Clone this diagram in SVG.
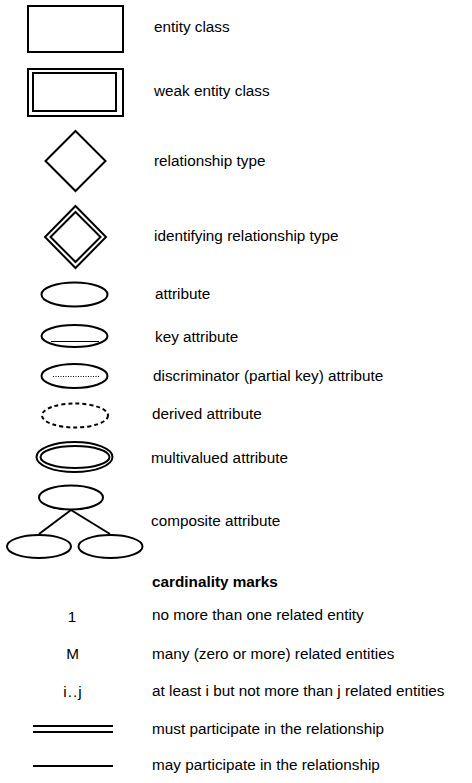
<svg xmlns="http://www.w3.org/2000/svg" width="472" height="783" viewBox="0 0 472 783">
<style>
.s{fill:none;stroke:#000;stroke-width:2}
.t{font-family:"Liberation Sans",Arial,sans-serif;font-size:15.3px;fill:#000}
.b{font-weight:bold}
.m{text-anchor:middle}
</style>
<rect width="472" height="783" fill="#fff"/>
<g id="entity"><rect class="s" x="28" y="6" width="95" height="46"/><text class="t" x="154" y="32">entity class</text></g>
<g id="weak-entity"><rect class="s" x="28" y="69" width="95" height="47"/><rect class="s" x="33" y="73" width="83" height="38"/><text class="t" x="154" y="96">weak entity class</text></g>
<g id="relationship"><polygon class="s" points="75.5,131 105.5,161 75.5,191 45.5,161"/><text class="t" x="154" y="166">relationship type</text></g>
<g id="identifying-relationship"><polygon class="s" points="75.5,206 106,237 75.5,268 45,237"/><polygon class="s" points="75.5,212 100.5,237 75.5,262 50.5,237"/><text class="t" x="154" y="241">identifying relationship type</text></g>
<g id="attribute"><ellipse class="s" cx="74.5" cy="294.5" rx="33" ry="12"/><text class="t" x="155" y="299">attribute</text></g>
<g id="key-attribute"><ellipse class="s" cx="74.5" cy="336" rx="33" ry="11"/><line x1="51" y1="341.5" x2="99" y2="341.5" stroke="#000" stroke-width="1"/><text class="t" x="155" y="342">key attribute</text></g>
<g id="discriminator"><ellipse class="s" cx="74.5" cy="376" rx="33" ry="12"/><line x1="53" y1="376.5" x2="100" y2="376.5" stroke="#000" stroke-width="1" stroke-dasharray="1,1.5"/><text class="t" x="153" y="381">discriminator (partial key) attribute</text></g>
<g id="derived"><ellipse class="s" cx="75" cy="415.5" rx="33" ry="12" stroke-dasharray="4,3"/><text class="t" x="152" y="419">derived attribute</text></g>
<g id="multivalued"><ellipse class="s" cx="74.5" cy="457" rx="38" ry="15"/><ellipse class="s" cx="75" cy="457" rx="34.5" ry="11"/><text class="t" x="151" y="463">multivalued attribute</text></g>
<g id="composite"><ellipse class="s" cx="71" cy="497.5" rx="32" ry="12"/><ellipse class="s" cx="39" cy="546.5" rx="32" ry="11.5"/><ellipse class="s" cx="110.5" cy="546.5" rx="32" ry="11.5"/><text class="t" x="151" y="526">composite attribute</text></g>
<g id="connectors"><line class="s" x1="71" y1="510" x2="39" y2="534" stroke-width="1.5"/><line class="s" x1="71" y1="510" x2="110" y2="534" stroke-width="1.5"/></g>
<g id="cardinality"><text class="t b" x="152" y="587">cardinality marks</text>
<text class="t m" x="72" y="622">1</text><text class="t" x="152" y="620">no more than one related entity</text>
<text class="t m" x="72.5" y="659">M</text><text class="t" x="152" y="659">many (zero or more) related entities</text>
<text class="t m" x="73" y="697" letter-spacing="1">i..j</text><text class="t" x="152" y="696">at least i but not more than j related entities</text>
<line class="s" x1="33" y1="726" x2="113" y2="726"/><line class="s" x1="33" y1="732" x2="113" y2="732"/><text class="t" x="152" y="734">must participate in the relationship</text>
<line class="s" x1="33" y1="766" x2="113" y2="766"/><text class="t" x="152" y="770">may participate in the relationship</text></g>
</svg>
